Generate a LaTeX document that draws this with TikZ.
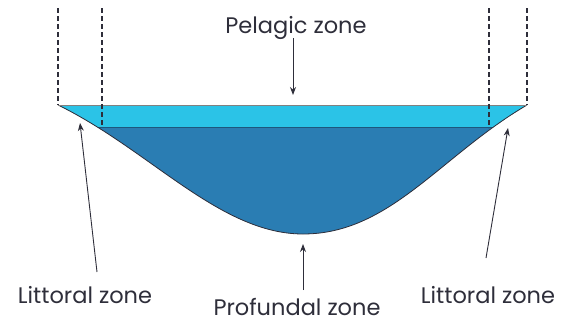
\documentclass[tikz,border=0pt]{standalone}
\usepackage{fontspec}
\setmainfont{Poppins}
\usetikzlibrary{arrows.meta}
\definecolor{shallow}{HTML}{2BC3E7}
\definecolor{deep}{HTML}{2A7DB3}
\definecolor{ink}{HTML}{2E2E3A}
\begin{document}
\begin{tikzpicture}[x=1pt,y=-1pt,
  lbl/.style={font=\fontsize{22.5}{26}\selectfont, text=ink, inner sep=0pt, anchor=base},
  pointer/.style={draw=ink, line width=0.9pt, -{Stealth[length=8pt,width=6pt]}},
  guide/.style={draw=ink, line width=1.2pt, dash pattern=on 5pt off 3pt}]
\useasboundingbox (0,0) rectangle (561,327);
\coordinate (sL) at (58,105);
\coordinate (sR) at (527,105);
\coordinate (bot) at (303,234);
\def\basin{(sL) .. controls (150,150) and (220,234) .. (bot) .. controls (390,234) and (440,156) .. (sR)}
\fill[deep] \basin -- cycle;
\begin{scope}
  \clip \basin -- cycle;
  \fill[shallow] (50,105) rectangle (540,127);
  \draw[deep!70!black, line width=0.6pt] (50,127) -- (540,127);
\end{scope}
\draw[line width=0.8pt, ink] \basin;
\draw[line width=1pt, gray] (sL) -- (sR);
% dashed guides
\coordinate (gA) at (58,8);
\coordinate (gB) at (102,8);
\coordinate (gBb) at (102,126);
\coordinate (gC) at (489,8);
\coordinate (gCb) at (489,128);
\coordinate (gD) at (527,8);
\draw[guide] (gA) -- (sL);
\draw[guide] (gB) -- (gBb);
\draw[guide] (gC) -- (gCb);
\draw[guide] (gD) -- (sR);
% labels
\node[lbl] (pelagic) at (296,33) {Pelagic zone};
\node[lbl] (litL) at (85,303) {Littoral zone};
\node[lbl] (prof) at (297,315) {Profundal zone};
\node[lbl] (litR) at (488,303) {Littoral zone};
% arrows
\coordinate (pS) at (293,38);
\coordinate (pT) at (293,95);
\coordinate (lS) at (97,272);
\coordinate (lT) at (80,123);
\coordinate (fS) at (303,290);
\coordinate (fT) at (303,244);
\coordinate (rS) at (486,258);
\coordinate (rT) at (508,128);
\draw[pointer] (pS) -- (pT);
\draw[pointer] (lS) -- (lT);
\draw[pointer] (fS) -- (fT);
\draw[pointer] (rS) -- (rT);
\end{tikzpicture}
\end{document}
